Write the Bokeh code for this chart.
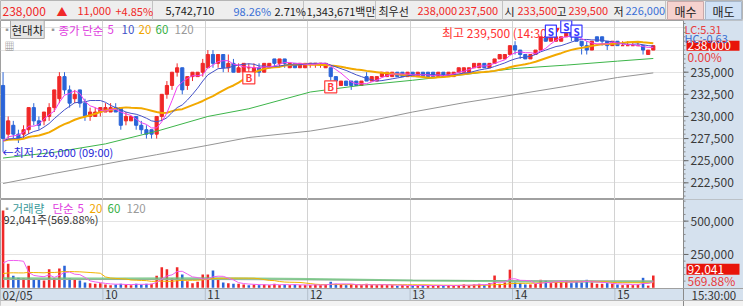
import numpy as np
import pandas as pd
from bokeh.plotting import figure
from bokeh.models import Range1d, FixedTicker, Label, Grid, ColumnDataSource, Span
from bokeh.layouts import column
from bokeh.embed import file_html
from bokeh.resources import INLINE
from bokeh.core.properties import value

FONT = "Noto Sans CJK KR"

# ---------------- data (3-minute candles, 02/05) ----------------
hour_labels = ["02/05", "10", "11", "12", "13", "14", "15"]
hour_start = [0, 20, 40, 60, 80, 100, 120]

opens = [233500, 228000, 229000, 228000, 228000, 228500, 231000, 229500, 229500, 230000,
         231000, 232000, 234500, 233000, 232000, 233000, 231500, 230000, 230000, 230500,
         230500, 230500, 231000, 231000, 229500, 229500, 230000, 229000, 228500, 228500,
         228000, 230000, 232500, 233500, 235000, 235500, 233500, 234500, 234500, 235000,
         235500, 237000, 236000, 237000, 235500, 236000, 235000, 235000, 235500, 235000,
         235500, 235000, 235500, 236500, 236000, 236500, 235500, 236000, 235500, 235500,
         236000, 236000, 236000, 235500, 235500, 234500, 233500, 234000, 234000, 234000,
         233500, 234500, 234000, 234000, 234500, 234500, 234500, 235000, 235000, 234500,
         235000, 234500, 235000, 235000, 235000, 234500, 235000, 234500, 234500, 235000,
         235000, 235000, 235500, 235500, 236000, 235500, 236000, 236500, 236500, 237000,
         238000, 237500, 237000, 236500, 237000, 237500, 239000, 238500, 238500, 238500,
         239000, 239500, 239000, 238500, 238000, 237500, 239000, 239000, 238500, 238000,
         238500, 238000, 238000, 238000, 238000, 238000, 237000, 237500]
highs = [235000, 230000, 229500, 228500, 229000, 231000, 231500, 230000, 230500, 231500,
         233000, 235000, 235000, 233500, 233000, 233000, 232000, 231000, 231000, 231000,
         231500, 231500, 231500, 231000, 230500, 230000, 230000, 229500, 229000, 228500,
         230000, 232500, 234000, 235000, 236000, 235500, 234500, 235000, 235000, 236500,
         237500, 237500, 237000, 237000, 237000, 236500, 236000, 236000, 236000, 236000,
         236000, 236000, 236000, 236500, 236500, 236500, 236000, 236000, 236000, 236000,
         236000, 236000, 236000, 236000, 235500, 234500, 234000, 234000, 234000, 234000,
         234000, 235000, 234500, 234500, 235000, 235000, 235000, 235000, 235000, 235000,
         235000, 235000, 235000, 235000, 235000, 235000, 235000, 235000, 235000, 235500,
         235500, 235500, 236000, 236000, 236000, 236000, 236500, 237000, 237000, 238000,
         238500, 237500, 237000, 237000, 237500, 239000, 239000, 239000, 239500, 239000,
         239500, 239500, 239000, 238500, 238500, 238500, 239000, 239000, 238500, 238500,
         238500, 238500, 238500, 238500, 238500, 238000, 237500, 238000]
lows = [226000, 227500, 227500, 227000, 227500, 228000, 229000, 228500, 229000, 229500,
        230500, 231500, 232500, 231000, 231500, 231000, 229500, 229500, 230000, 230000,
        230500, 230500, 230500, 228500, 229000, 229500, 228500, 228000, 227500, 227500,
        227500, 229500, 232000, 233000, 234500, 232500, 233000, 234000, 234500, 234500,
        235500, 235500, 235500, 235000, 235000, 235000, 235000, 234500, 235000, 235000,
        234500, 235000, 235500, 235500, 235500, 235500, 235500, 235500, 235500, 235500,
        235500, 235500, 235500, 235500, 234000, 233500, 233500, 233500, 233000, 233500,
        233500, 234000, 234000, 234000, 234500, 234500, 234500, 234500, 234500, 234500,
        234500, 234500, 234500, 234500, 234500, 234500, 234500, 234500, 234500, 235000,
        235000, 235000, 235500, 235500, 235500, 235500, 236000, 236500, 236500, 237000,
        237000, 236500, 236500, 236500, 237000, 237500, 238500, 238500, 238500, 238500,
        239000, 238500, 238500, 237000, 237000, 237500, 238500, 238000, 237500, 238000,
        238000, 238000, 238000, 238000, 238000, 237000, 237000, 237500]
closes = [227500, 229500, 228000, 227500, 228500, 231000, 229500, 229000, 230500, 231000,
          233000, 234500, 233000, 231500, 232500, 231500, 230000, 230500, 230500, 231000,
          231000, 231000, 230500, 229000, 230000, 230000, 229000, 228500, 228000, 228000,
          230000, 232500, 233500, 235000, 235500, 233000, 234500, 235000, 235000, 236000,
          237000, 236000, 237000, 235500, 236000, 235000, 235500, 236000, 235500, 235500,
          235000, 236000, 236000, 236000, 236500, 236000, 236000, 235500, 236000, 236000,
          236000, 236000, 236000, 236000, 234500, 234000, 234000, 233500, 233500, 233500,
          234000, 234000, 234500, 234500, 235000, 235000, 235000, 234500, 234500, 235000,
          234500, 235000, 234500, 234500, 234500, 235000, 234500, 235000, 235000, 235500,
          235500, 235500, 236000, 236000, 235500, 236000, 236500, 237000, 237000, 238000,
          237500, 237000, 236500, 237000, 237500, 239000, 238500, 239000, 239000, 239000,
          239500, 239000, 238500, 238000, 237500, 238500, 238500, 238500, 238000, 238500,
          238000, 238000, 238000, 238000, 238000, 237500, 237500, 238000]
volumes = [580000, 180000, 90000, 75000, 70000, 165000, 65000, 60000, 55000, 140000,
           70000, 145000, 165000, 70000, 60000, 55000, 40000, 35000, 30000, 35000,
           25000, 20000, 25000, 30000, 25000, 20000, 30000, 25000, 30000, 30000,
           90000, 155000, 140000, 70000, 155000, 100000, 50000, 35000, 45000, 100000,
           100000, 130000, 60000, 40000, 35000, 30000, 30000, 25000, 20000, 25000,
           20000, 25000, 20000, 30000, 20000, 25000, 20000, 25000, 20000, 20000,
           20000, 25000, 20000, 25000, 45000, 30000, 25000, 20000, 25000, 20000,
           20000, 30000, 20000, 20000, 25000, 20000, 20000, 15000, 20000, 15000,
           15000, 20000, 20000, 15000, 15000, 20000, 15000, 20000, 15000, 20000,
           25000, 20000, 25000, 30000, 20000, 35000, 92000, 30000, 40000, 136000,
           40000, 35000, 25000, 25000, 30000, 60000, 55000, 35000, 45000, 40000,
           55000, 35000, 50000, 40000, 60000, 40000, 30000, 30000, 35000, 30000,
           25000, 20000, 25000, 20000, 25000, 75000, 16151, 92041]
prev_close = 227000
prev_closes = [227000, 227500, 227500, 227000, 227000, 227500, 227500, 227000, 227500, 227000,
               227500, 227500, 227000, 227000, 227500, 227000, 227500, 227000, 227000]
prev_volumes = [85000, 70000, 90000, 75000, 80000, 95000, 70000, 85000, 75000, 80000,
                90000, 70000, 85000, 80000, 75000, 90000, 85000, 80000, 95000]
ma60_idx = [0, 10, 20, 30, 40, 48, 60, 70, 80, 90, 100, 110, 120, 127]
ma60_val = [225300, 225950, 226900, 228330, 230000, 230870, 232760, 233520, 234090, 234730,
            235420, 235800, 236250, 236550]
ma120_idx = [0, 10, 20, 30, 40, 48, 60, 70, 80, 90, 100, 110, 120, 127]
ma120_val = [222420, 223560, 224630, 225680, 226740, 227620, 228350, 229300, 230500, 231550,
             232470, 233410, 234400, 234920]
vma60_idx = [0, 20, 40, 60, 80, 100, 127]
vma60_val = [72000, 70000, 72000, 66000, 55000, 48000, 46000]
vma120_idx = [0, 40, 80, 127]
vma120_val = [62000, 62000, 56000, 52000]
buy_idx = [48, 64]
sell_idx = [107, 110, 112]
price_ticks = [222500, 225000, 227500, 230000, 232500, 235000]
price_grid = [222500, 225000, 227500, 230000, 232500, 235000, 237500, 240000]
vol_ticks = [250000, 500000]

# ---------------- derived ----------------
o = np.array(opens, float); h = np.array(highs, float); l = np.array(lows, float); c = np.array(closes, float)
v = np.array(volumes, float)
n = len(c)
xi = np.arange(n)
fullc = pd.Series(prev_closes + closes, dtype=float)
k0 = len(prev_closes)
ma5 = fullc.rolling(5).mean().values[k0:]
ma10 = fullc.rolling(10).mean().values[k0:]
ma20 = fullc.rolling(20).mean().values[k0:]
fullv = pd.Series(prev_volumes + volumes, dtype=float)
vma5 = fullv.rolling(5).mean().values[len(prev_volumes):]
vma20 = fullv.rolling(20).mean().values[len(prev_volumes):]

RED = "#f02828"; BLUE = "#2a64d8"
ccol = [RED if cc >= oo else BLUE for oo, cc in zip(o, c)]
pcs = np.concatenate([[prev_close], c[:-1]])
vcol = [RED if cc >= pc else BLUE for cc, pc in zip(c, pcs)]

PX = 5.12                 # pixels per candle
X0 = -0.5
X1 = X0 + 683 / PX        # right edge of chart area (axis line)
XE = X0 + 743 / PX        # right edge of window
PANEL = "#d5e1ee"
AXC = "#3a3a3a"
xr = Range1d(X0, XE)
hour_lines = [s - 0.5 for s in hour_start[1:]]


def label(fig, x, y, text, color="#333333", size="12px", align="left", baseline="middle", **kw):
    xu = kw.pop("x_units", "screen"); yu = kw.pop("y_units", "screen")
    fig.add_layout(Label(x=x, y=y, x_units=xu, y_units=yu, text=text, text_color=color,
                         text_font=FONT, text_font_size=size, text_align=align,
                         text_baseline=baseline, **kw))


def right_axis(fig, ticks, minor, ybot, ytop):
    fig.quad(left=[X1], right=[XE + 1], bottom=[ybot], top=[ytop], fill_color=PANEL, line_color=None)
    fig.add_layout(Span(location=X1, dimension="height", line_color="#8a8a8a", line_width=1))
    fig.segment(x0=[X1] * len(minor), y0=minor, x1=[X1 + 2 / PX] * len(minor), y1=minor,
                line_color="#8a8a8a")
    fig.segment(x0=[X1] * len(ticks), y0=ticks, x1=[X1 + 5 / PX] * len(ticks), y1=ticks,
                line_color="#666666")
    fig.text(x=[X1 + 7 / PX] * len(ticks), y=ticks, text=[f"{t:,}" for t in ticks],
             text_color=AXC, text_font=value(FONT), text_font_size=value("12px"),
             text_align="left", text_baseline="middle")


def value_box(fig, yv, txt, h_px):
    fig.rect(x=[X1 + 29.5 / PX], y=[yv], width=53, height=h_px, width_units="screen",
             height_units="screen", fill_color="#e8140a", line_color=None)
    fig.text(x=[X1 + 4 / PX], y=[yv], text=[txt], text_color="white", text_font=value(FONT),
             text_font_size=value("12px"), text_align="left", text_baseline="middle")


# ---------------- top info bar ----------------
top = figure(width=743, height=20, x_range=Range1d(0, 743), y_range=Range1d(20, 0),
             x_axis_location=None, y_axis_location=None, toolbar_location=None,
             output_backend="svg", min_border=0, background_fill_color="#eeeeee",
             border_fill_color="#eeeeee", outline_line_color="#b5b5b5")
top.grid.visible = False
top.quad(left=[667, 705], right=[703, 741], top=[1, 1], bottom=[19, 19],
         fill_color=["#f6d2ce", "#d0e1f5"], line_color=["#c9a9a9", "#a9b9cc"])
seps = [152, 303, 375, 502, 665]
top.segment(x0=seps, y0=[0] * len(seps), x1=seps, y1=[20] * len(seps), line_color="#c2c2c2")
info = [
    (2, "238,000", RED, "12px"), (56, "▲", RED, "11px"), (77, "11,000", RED, "11px"),
    (115, "+4.85%", RED, "11px"), (165, "5,742,710", "#222222", "11px"),
    (233, "98.26%", "#3a6fd6", "11px"), (274, "2.71%", "#222222", "11px"),
    (306, "1,343,671백만", "#222222", "11px"), (378, "최우선", "#222222", "11px"),
    (417, "238,000", RED, "11px"), (458, "237,500", RED, "11px"), (504, "시", "#222222", "11px"),
    (517, "233,500", RED, "11px"), (556, "고", "#222222", "11px"), (568, "239,500", RED, "11px"),
    (613, "저", "#222222", "11px"), (625, "226,000", "#3a6fd6", "11px"),
]
for x, t, col, fs in info:
    top.text(x=[x], y=[10.5], text=[t], text_color=col, text_font=value(FONT),
             text_font_size=value(fs), text_baseline="middle", text_align="left")
top.text(x=[685, 723], y=[10.5, 10.5], text=["매수", "매도"], text_color="#222222",
         text_font=value(FONT), text_font_size=value("12px"), text_baseline="middle", text_align="center")

# ---------------- price panel ----------------
PH = 179
PY0, PY1 = 220615, 240842
PPX = (PY1 - PY0) / PH
p = figure(width=743, height=PH, x_range=xr, y_range=Range1d(PY0, PY1),
           x_axis_location=None, y_axis_location=None, toolbar_location=None,
           output_backend="svg", min_border=0, background_fill_color="white",
           border_fill_color=PANEL, outline_line_color="#a0a0a0")
p.grid.visible = False
p.add_layout(Grid(dimension=1, ticker=FixedTicker(ticks=price_grid), grid_line_color="#e3e3e3"))
p.add_layout(Grid(dimension=0, ticker=FixedTicker(ticks=hour_lines), grid_line_color="#d2d2d2"))
right_axis(p, price_ticks, list(range(221000, 240501, 500)), PY0 - 5000, PY1 + 5000)

src = ColumnDataSource(dict(x=xi, hi=h, lo=l, top=np.maximum(o, c), bot=np.minimum(o, c), col=ccol))
p.segment(x0="x", y0="hi", x1="x", y1="lo", line_color="col", line_width=1, source=src)
p.vbar(x="x", width=0.62, top="top", bottom="bot", fill_color="col", line_color="col", source=src)

p.line(ma120_idx, ma120_val, line_color="#959595", line_width=1)
p.line(ma60_idx, ma60_val, line_color="#3db54a", line_width=1)
p.line(xi, ma20, line_color="#f2a900", line_width=2)
p.line(xi, ma10, line_color="#4552c8", line_width=1)
p.line(xi, ma5, line_color="#f040f0", line_width=1)

ihi = int(np.argmax(h)); ilo = int(np.argmin(l))
p.text(x=[ihi - 1.0], y=[h[ihi]], text=[f"최고 {int(h[ihi]):,} (14:30)"], text_color="#ff3030",
       text_font=value(FONT), text_font_size=value("12px"), text_align="right", text_baseline="middle")
p.text(x=[ilo - 0.1], y=[l[ilo]], text=[f"←최저 {int(l[ilo]):,} (09:00)"], text_color="#2828d8",
       text_font=value(FONT), text_font_size=value("11px"), text_align="left", text_baseline="middle")
p.scatter(x=[ihi], y=[h[ihi] + 250], marker="inverted_triangle", size=6, color="#ff2020")

bx = buy_idx; by = [l[i] - 650 for i in bx]
p.rect(x=bx, y=by, width=12, height=12, width_units="screen", height_units="screen",
       fill_color="white", line_color="#ff3c3c", line_width=1.2)
p.text(x=bx, y=by, text=["B"] * len(bx), text_color="#ff3c3c", text_font=value(FONT),
       text_font_size=value("10px"), text_align="center", text_baseline="middle", text_font_style="bold")
sx = sell_idx; sy = [h[i] + 650 for i in sx]
p.rect(x=sx, y=sy, width=11, height=12, width_units="screen", height_units="screen",
       fill_color="white", line_color="#3a3aff", line_width=1.2)
p.text(x=sx, y=sy, text=["S"] * len(sx), text_color="#3a3aff", text_font=value(FONT),
       text_font_size=value("10px"), text_align="center", text_baseline="middle", text_font_style="bold")


def pY(y):  # page y -> screen y from bottom of price frame (page y 199)
    return 199 - y


label(p, 2, pY(29), "▪", color="#9a9a9a", size="9px")
label(p, 10, pY(29), "현대차", color="#222222", size="11.5px", background_fill_color="#e6e6e6",
      border_line_color="#a8a8a8", padding=1)
label(p, 48, pY(29), "▪", color="#9a9a9a", size="9px")
label(p, 58, pY(29), "종가 단순", color="#e040e0", size="11.5px")
label(p, 107, pY(29), "5", color="#e040e0", size="11.5px")
label(p, 121, pY(29), "10", color="#3f52c8", size="11.5px")
label(p, 138, pY(29), "20", color="#f0a500", size="11.5px")
label(p, 155, pY(29), "60", color="#36b045", size="11.5px")
label(p, 174, pY(29), "120", color="#9a9a9a", size="11.5px")
label(p, 4, pY(45), "▦", color="#8a8a8a", size="10px")
label(p, 684, pY(28.5), "LC:5.31", color="#e83c3c", size="11px")
label(p, 684, pY(37), "HC:-0.63", color="#3c6ed0", size="11px")
value_box(p, c[-1], f"{int(c[-1]):,}", 10)
label(p, 687, pY(55.5), "0.00%", color="#e83c3c", size="12px")

# ---------------- volume panel (incl. time band and bottom strip) ----------------
VH = 107
VPX = 7500.0                      # shares per pixel
VY0 = -(306 - 287.3) * VPX        # page y 306
VY1 = (287.3 - 199) * VPX         # page y 199
BAND = -(288 - 287.3) * VPX       # page y 288
STRIP = -(300 - 287.3) * VPX      # page y 300
vf = figure(width=743, height=VH, x_range=xr, y_range=Range1d(VY0, VY1),
            x_axis_location=None, y_axis_location=None, toolbar_location=None,
            output_backend="svg", min_border=0, background_fill_color="white",
            border_fill_color=PANEL, outline_line_color="#a0a0a0")
vf.grid.visible = False
vf.add_layout(Grid(dimension=1, ticker=FixedTicker(ticks=vol_ticks), grid_line_color="#e3e3e3"))
vf.add_layout(Grid(dimension=0, ticker=FixedTicker(ticks=hour_lines), grid_line_color="#d2d2d2"))
vf.quad(left=[X0 - 1], right=[XE + 1], bottom=[STRIP], top=[BAND], fill_color=PANEL, line_color=None)
vf.segment(x0=hour_lines, y0=[STRIP] * len(hour_lines), x1=hour_lines, y1=[BAND] * len(hour_lines),
           line_color="#b4bfcc")
right_axis(vf, vol_ticks, list(range(50000, 650001, 50000)), STRIP, VY1 + 1e5)
vf.quad(left=[X0 - 1], right=[XE + 1], bottom=[VY0 - 1e5], top=[STRIP], fill_color="#f3f3f3",
        line_color=None)
vf.add_layout(Span(location=BAND, dimension="width", line_color="#a0a0a0", line_width=1))
vf.add_layout(Span(location=STRIP, dimension="width", line_color="#b8b8b8", line_width=1))

vsrc = ColumnDataSource(dict(x=xi, v=v, col=vcol))
vf.vbar(x="x", width=0.5, top="v", bottom=0, fill_color="col", line_color=None, source=vsrc)
vf.line(vma120_idx, vma120_val, line_color="#a8a8a8", line_width=1)
vf.line(vma60_idx, vma60_val, line_color="#6cc07a", line_width=2, alpha=0.8)
vf.line(xi, vma20, line_color="#f2b400", line_width=1)
vf.line(xi, vma5, line_color="#f060f0", line_width=1)


def vY(y):  # page y -> screen y from bottom of volume frame (page y 306)
    return 306 - y


label(vf, 2, vY(207.5), "▪", color="#9a9a9a", size="9px")
label(vf, 12, vY(207.5), "거래량", color="#3a9a9a", size="11.5px")
label(vf, 52, vY(207.5), "단순", color="#e040e0", size="11.5px")
label(vf, 77, vY(207.5), "5", color="#e040e0", size="11.5px")
label(vf, 89, vY(207.5), "20", color="#f0a500", size="11.5px")
label(vf, 107, vY(207.5), "60", color="#36b045", size="11.5px")
label(vf, 126, vY(207.5), "120", color="#9a9a9a", size="11.5px")
label(vf, 3, vY(218.5), f"{int(v[-1]):,}주({v[-1] / v[-2] * 100:.2f}%)", color="#333333", size="11px")
value_box(vf, v[-1] + 6.3 * VPX, f"{int(v[-1]):,}", 11)
label(vf, 687, vY(279.5), f"{v[-1] / v[-2] * 100:.2f}%", color="#e83c3c", size="12px")
for s, t in zip(hour_start, hour_labels):
    label(vf, s - 0.5, vY(294), t, color="#333333", size="11.5px", x_units="data", x_offset=2)
label(vf, 691, vY(294), "15:30:00", color="#333333", size="11.5px")

layout = column(top, p, vf, spacing=0)
open("out.html", "w").write(file_html(layout, INLINE))
